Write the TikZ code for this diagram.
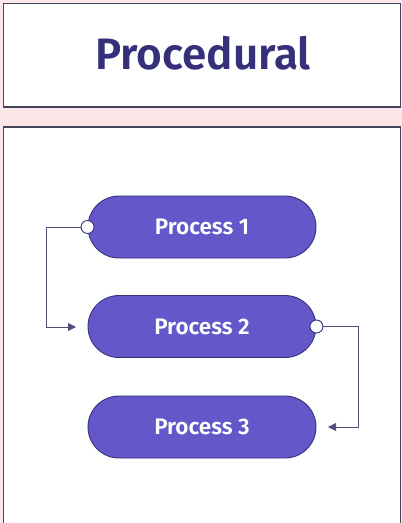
\documentclass[tikz,border=0pt]{standalone}
\usepackage{fontspec}
\setmainfont{Fira Sans}[BoldFont={Fira Sans SemiBold}]
\usetikzlibrary{arrows.meta,shapes.misc}
\definecolor{bgpink}{HTML}{FDE6EA}
\definecolor{frameC}{HTML}{44445A}
\definecolor{titleC}{HTML}{36307A}
\definecolor{pillC}{HTML}{6357C9}
\definecolor{pillB}{HTML}{38327A}
\definecolor{lineC}{HTML}{50507A}
\tikzset{
  panel/.style={draw=frameC, fill=white, line width=1.3pt},
  pill/.style={draw=pillB, fill=pillC, line width=0.9pt, rounded rectangle,
    minimum width=228pt, minimum height=62pt, inner sep=0pt,
    text=white, font=\fontsize{22.5}{26}\selectfont\bfseries},
  conn/.style={draw=lineC, line width=0.9pt, -{Triangle[length=8pt,width=8pt]}},
  port/.style={circle, draw=pillB, fill=white, line width=0.9pt, minimum size=13pt, inner sep=0pt}
}
\begin{document}
\begin{tikzpicture}[x=1pt,y=-1pt]
\useasboundingbox (0,0) rectangle (402,523);
\fill[bgpink] (0,0) rectangle (402,523);
\draw[panel] (3.5,3.5) rectangle (400.5,107);
\draw[panel] (3.5,127) rectangle (400.5,530);
\node[text=titleC, font=\fontsize{44}{50}\selectfont\bfseries] (title) at (203,53.5) {Procedural};
\node[pill] (p1) at (202,227) {Process 1};
\node[pill] (p2) at (202,326.5) {Process 2};
\node[pill] (p3) at (202,427) {Process 3};
\coordinate (a1) at (76,327);
\coordinate (a2) at (328,427);
\draw[conn] (p1.west) -- ++(-41,0) |- (a1);
\draw[conn] (p2.east) -- ++(42,0) |- (a2);
\node[port] (c1) at (p1.west) {};
\node[port] (c2) at (p2.east) {};
\end{tikzpicture}
\end{document}
